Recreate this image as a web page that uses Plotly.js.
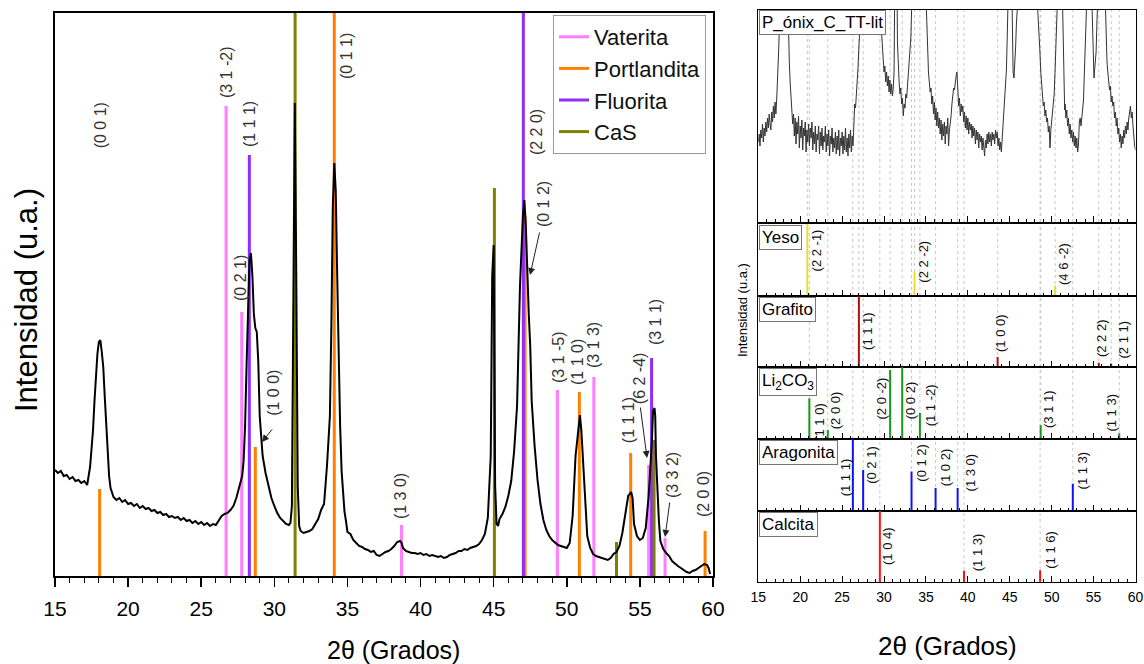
<!DOCTYPE html>
<html><head><meta charset="utf-8">
<script src="https://cdn.plot.ly/plotly-3.0.1.min.js"></script>
<style>html,body{margin:0;padding:0;background:#fff}#chart{width:1144px;height:664px}</style>
</head><body><div id="chart"></div>
<script>
// ---------- Left panel: measured pattern ----------
const twoTheta = [15.0,15.2,15.4,15.6,15.8,16.0,16.2,16.4,16.6,16.8,17.0,17.2,17.4,17.5,17.6,17.7,17.8,17.9,18.0,18.1,18.2,18.3,18.4,18.5,18.6,18.7,18.8,19.0,19.2,19.4,19.6,19.8,20.0,20.2,20.4,20.6,20.8,21.0,21.2,21.4,21.6,21.8,22.0,22.2,22.4,22.6,22.8,23.0,23.2,23.4,23.6,23.8,24.0,24.2,24.4,24.6,24.8,25.0,25.2,25.4,25.6,25.8,26.0,26.2,26.4,26.6,26.8,27.0,27.2,27.4,27.6,27.8,27.9,28.0,28.1,28.2,28.3,28.4,28.5,28.6,28.7,28.8,28.9,29.0,29.1,29.2,29.4,29.6,29.8,30.0,30.2,30.4,30.6,30.8,31.0,31.1,31.2,31.3,31.4,31.5,31.6,31.7,31.8,32.0,32.2,32.4,32.6,32.8,33.0,33.2,33.4,33.6,33.8,33.9,34.0,34.1,34.2,34.3,34.4,34.5,34.6,34.7,34.8,34.9,35.0,35.2,35.4,35.6,35.8,36.0,36.2,36.4,36.6,36.8,37.0,37.2,37.4,37.6,37.8,38.0,38.2,38.4,38.6,38.7,38.8,39.0,39.2,39.4,39.6,39.8,40.0,40.2,40.4,40.6,40.8,41.0,41.2,41.4,41.6,41.8,42.0,42.2,42.4,42.6,42.8,43.0,43.2,43.4,43.6,43.8,44.0,44.2,44.4,44.6,44.8,44.9,45.0,45.05,45.1,45.2,45.3,45.4,45.6,45.8,46.0,46.2,46.4,46.6,46.8,47.0,47.1,47.2,47.3,47.4,47.5,47.6,47.8,48.0,48.2,48.4,48.6,48.8,49.0,49.2,49.4,49.6,49.8,50.0,50.2,50.4,50.6,50.8,50.9,51.0,51.1,51.2,51.3,51.4,51.6,51.8,52.0,52.2,52.4,52.6,52.8,53.0,53.2,53.4,53.6,53.8,54.0,54.2,54.4,54.5,54.6,54.8,55.0,55.2,55.4,55.6,55.8,55.9,56.0,56.05,56.1,56.2,56.3,56.4,56.6,56.8,57.0,57.2,57.4,57.6,57.8,58.0,58.2,58.4,58.6,58.8,59.0,59.2,59.4,59.6,59.7,59.8,60.0];
const intensity = [106,103,105,100,101,97,99,95,96,93,95,91,109,125,146,175,200,222,234,236,224,209,180,150,122,100,88,79,76,78,74,76,72,73,70,72,68,70,67,68,65,66,63,64,61,62,59,60,58,59,56,58,55,56,53,55,52,54,51,53,50,52,51,55,60,62,63,66,70,78,88,100,115,150,210,280,316,323,300,262,248,244,215,160,135,120,103,90,78,70,63,58,55,52,51,53,70,250,473,300,90,50,45,43,44,45,47,52,57,66,72,110,160,250,370,413,385,300,220,150,105,80,64,55,44,42,36,33,30,29,27,26,24,25,21,20,22,24,25,27,30,34,35,33,28,25,24,23,23,22,23,21,22,20,21,20,19,20,18,19,21,22,23,25,25,27,26,28,29,30,32,36,42,58,120,300,331,240,90,52,50,57,62,69,80,95,125,170,290,360,376,350,300,262,230,175,130,96,72,56,46,40,36,33,31,30,29,28,33,60,120,150,161,145,115,90,65,40,28,22,20,19,18,17,16,18,22,24,30,43,60,80,84,78,52,40,36,38,48,80,130,165,168,160,120,80,55,35,27,23,20,15,12,10,8,6,4,3,5,6,8,10,12,11,8,2];

// Reference phases (left panel)
const phaseNames = ["Vaterita","Portlandita","Fluorita","CaS"];
const vateritaPos = [26.7,27.77,38.7,49.36,51.85,55.6,56.72];
const vateritaInt = [470,264,51,186,199,111,38];
const portlanditaPos = [18.05,28.7,34.1,47.15,50.86,54.37,59.46];
const portlanditaInt = [87,129,563,360,184,123,45];
const fluoritaPos = [28.29,47.03,55.8];
const fluoritaInt = [421,563,218];
const casPos = [31.42,45.05,53.4,55.97];
const casInt = [563,388,34,136];

// Left panel hkl labels
const leftLabelText = ["(0 0 1)","(3 1 -2)","(1 1 1)","(0 2 1)","(0 1 1)","(1 0 0)","(1 3 0)","(2 2 0)","(0 1 2)","(3 1 -5)","(1 1 0)","(3 1 3)","(1 1 1)","(6 2 -4)","(3 1 1)","(3 3 2)","(2 0 0)"];
const leftLabelX = [18.1,26.7,28.27,27.65,34.9,29.9,38.6,47.9,48.38,49.4,50.7,51.8,54.2,54.95,56.04,57.2,59.32];
const leftLabelY = [451,504,452,298,520,183,80,444,372,219,214,231,156,198,254,101,82];
// arrow heads (data units)
const arrowX = [29.16,47.49,55.49,56.72];
const arrowY = [134,301,118,39];

// ---------- Right panels ----------
const topTwoTheta = [
15.0,15.1,15.2,15.3,15.4,15.5,15.6,15.7,15.8,15.9,16.0,16.1,16.2,16.3,16.4,16.5,16.6,16.7,16.8,16.9,17.0,17.1,17.2,17.3,17.4,17.5,17.6,17.7,
17.8,18.0,18.2,18.4,18.5,18.6,18.7,18.8,18.9,19.0,
19.1,19.2,19.3,19.4,19.5,19.6,19.7,19.8,19.9,20.0,20.1,20.2,20.3,20.4,20.5,20.6,20.7,20.8,20.9,21.0,21.1,21.2,21.3,21.4,21.5,21.6,21.7,21.8,21.9,22.0,
22.1,22.2,22.3,22.4,22.5,22.6,22.7,22.8,22.9,23.0,23.1,23.2,23.3,23.4,23.5,23.6,23.7,23.8,23.9,24.0,24.1,24.2,24.3,24.4,24.5,24.6,24.7,24.8,24.9,25.0,
25.1,25.2,25.3,25.4,25.5,25.6,25.7,25.8,25.9,26.0,26.1,26.2,26.3,26.4,
26.5,26.6,26.7,26.8,26.9,27.0,27.1,27.2,27.3,27.6,28.0,28.4,28.8,29.2,29.5,29.7,29.9,
30.0,30.1,30.2,30.3,30.4,30.5,30.6,30.7,30.8,30.9,31.0,31.1,31.2,
31.3,31.4,31.5,31.6,
31.7,31.8,31.9,32.0,32.1,32.2,32.3,32.4,32.5,32.6,32.7,32.8,32.9,33.0,33.1,33.2,
33.3,33.5,33.8,34.2,34.6,34.9,
35.0,35.1,35.2,35.3,35.4,35.5,35.6,35.7,35.8,35.9,36.0,36.1,36.2,36.3,36.4,36.5,36.6,36.7,36.8,36.9,37.0,37.1,37.2,37.3,37.4,37.5,37.6,37.7,37.8,37.9,
38.0,38.1,38.2,38.3,38.4,38.5,38.6,38.7,38.8,38.9,39.0,39.1,39.2,39.3,39.4,39.5,39.6,39.7,39.8,39.9,40.0,40.1,40.2,40.3,40.4,40.5,40.6,40.7,40.8,40.9,
41.0,41.1,41.2,41.3,41.4,41.5,41.6,41.7,41.8,41.9,42.0,42.1,42.2,42.3,42.4,42.5,42.6,42.7,42.8,42.9,43.0,43.1,43.2,43.3,43.4,43.5,43.6,43.7,43.8,43.9,
44.0,44.1,44.2,44.3,44.4,44.5,44.6,44.7,
44.8,45.0,45.2,45.3,45.4,45.5,45.6,45.7,45.8,46.0,46.4,47.0,47.4,47.8,48.2,48.4,
48.5,48.6,48.7,48.8,48.9,49.0,49.1,49.2,49.3,49.4,49.5,49.6,49.7,49.8,49.9,50.0,50.1,50.2,50.3,50.4,50.5,50.6,
50.8,51.0,51.2,51.35,51.45,51.55,
51.6,51.7,51.8,51.9,52.0,52.1,52.2,52.3,52.4,52.5,52.6,52.7,52.8,52.9,53.0,53.1,53.2,53.3,53.4,53.5,53.6,53.7,53.8,53.9,54.0,
54.1,54.3,54.5,54.7,54.9,55.0,55.05,55.1,55.2,55.3,55.4,55.6,55.9,56.2,56.4,
56.5,56.6,56.7,56.8,56.9,57.0,57.1,57.2,57.3,57.4,57.5,57.6,57.7,57.8,57.9,58.0,58.1,58.2,58.3,58.4,58.5,58.6,58.7,58.8,58.9,59.0,59.1,59.2,59.3,59.4,59.5,59.6,59.7,59.8,59.9,60.0];
const topIntensity = [
80,88,76,92,84,98,80,94,86,100,90,104,94,108,98,92,110,100,116,104,120,108,124,140,165,190,220,250,
280,300,300,270,220,184,160,140,120,112,
98,108,86,104,78,100,88,106,74,96,84,102,72,94,86,100,70,92,80,98,76,94,84,100,72,90,78,96,70,88,
82,96,68,90,76,94,72,86,80,96,70,88,76,92,66,86,78,94,70,84,74,90,68,86,72,92,66,84,76,90,
68,86,72,94,70,84,66,88,74,92,70,86,76,100,
118,114,126,140,155,175,200,230,260,300,330,380,330,280,230,190,160,
150,156,140,150,136,146,130,142,128,138,126,134,150,
260,400,300,180,
150,140,128,134,118,124,106,118,114,128,124,136,142,150,165,185,
215,270,320,400,330,250,
220,190,170,150,140,130,134,118,126,108,120,102,114,96,110,94,104,88,102,82,98,86,100,78,96,88,104,76,92,98,
106,118,124,134,132,142,146,150,138,116,124,106,118,110,116,100,110,94,106,92,104,88,100,92,98,84,96,86,94,78,
92,82,90,74,88,80,86,72,84,76,66,82,74,88,78,90,80,88,76,90,82,88,78,92,84,90,76,84,72,80,
70,84,98,108,118,135,152,185,
230,300,260,190,150,144,156,175,200,250,300,350,360,300,240,205,
185,170,150,135,124,116,120,106,112,100,104,90,96,74,92,100,110,118,128,150,180,215,
280,300,260,200,150,112,
118,104,112,96,104,88,98,84,92,80,90,76,86,74,84,70,78,100,104,96,106,112,122,150,175,
210,280,300,250,180,150,144,150,160,170,200,260,320,280,210,
170,160,150,140,132,136,120,126,116,120,104,110,96,104,88,94,80,88,74,86,78,92,84,96,88,100,92,104,110,116,104,110,96,82,76,72];

const panelNames = ["P_ónix_C_TT-lit","Yeso","Grafito","Li<sub>2</sub>CO<sub>3</sub>","Aragonita","Calcita"];
const yesoPos = [20.85,33.64,50.41];
const yesoInt = [1,0.34,0.145];
const yesoLab = ["(2 2 -1)","(2 2 -2)","(4 6 -2)"];
const yesoLabX = [21.98,34.68,51.4];
const yesoLabY = [0.63,0.48,0.45];
const grafitoPos = [27.0,43.55,55.62,57.1];
const grafitoInt = [1,0.14,0.06,0.05];
const grafitoLab = ["(1 1 1)","(1 0 0)","(2 2 2)","(2 1 1)"];
const grafitoLabX = [28.1,43.96,56.03,58.57];
const grafitoLabY = [0.51,0.48,0.41,0.38];
const li2co3Pos = [21.09,23.29,30.73,32.17,34.28,48.69,58.06];
const li2co3Int = [0.565,0.125,0.96,1,0.36,0.19,0.08];
const li2co3Lab = ["(1 1 0)","(2 0 0)","(2 0 -2)","(0 0 2)","(1 1 -2)","(3 1 1)","(1 1 3)"];
const li2co3LabX = [22.37,24.16,29.74,33.12,35.5,49.6,57.14];
const li2co3LabY = [0.24,0.40,0.56,0.54,0.47,0.42,0.36];
const aragonitaPos = [26.28,27.51,33.28,36.15,38.78,52.52];
const aragonitaInt = [1,0.57,0.55,0.32,0.32,0.38];
const aragonitaLab = ["(1 1 1)","(0 2 1)","(0 1 2)","(1 0 2)","(1 3 0)","(1 1 3)"];
const aragonitaLabX = [25.36,28.55,34.52,37.3,40.29,53.79];
const aragonitaLabY = [0.47,0.64,0.67,0.61,0.54,0.57];
const calcitaPos = [29.5,39.54,48.62];
const calcitaInt = [1,0.157,0.167];
const calcitaLab = ["(1 0 4)","(1 1 3)","(1 1 6)"];
const calcitaLabX = [30.5,41.1,49.85];
const calcitaLabY = [0.51,0.42,0.46];

const xTicks = [15,20,25,30,35,40,45,50,55,60];

// ---------- build ----------
const FONT = "Liberation Sans, Arial, sans-serif";
function sticks(pos, h){
  const x=[],y=[];
  pos.forEach((p,i)=>{x.push(p,p,null);y.push(0,h[i],null);});
  return {x,y};
}
const traces = [];
const leftPhases = [
  {pos:vateritaPos,h:vateritaInt,color:"#ff7dff"},
  {pos:portlanditaPos,h:portlanditaInt,color:"#ff8000"},
  {pos:fluoritaPos,h:fluoritaInt,color:"#8f2cff"},
  {pos:casPos,h:casInt,color:"#808000"}
];
leftPhases.forEach((ph,i)=>{
  const s=sticks(ph.pos,ph.h);
  traces.push({type:"scatter",mode:"lines",x:s.x,y:s.y,name:phaseNames[i],
    line:{color:ph.color,width:3},xaxis:"x",yaxis:"y",hoverinfo:"skip"});
});
traces.push({type:"scatter",mode:"lines",x:twoTheta,y:intensity,showlegend:false,
  line:{color:"#000",width:2},xaxis:"x",yaxis:"y"});

const rightPhases = [
  {pos:yesoPos,h:yesoInt,color:"#e8e030",lab:yesoLab,lx:yesoLabX,ly:yesoLabY},
  {pos:grafitoPos,h:grafitoInt,color:"#b01010",lab:grafitoLab,lx:grafitoLabX,ly:grafitoLabY},
  {pos:li2co3Pos,h:li2co3Int,color:"#149a14",lab:li2co3Lab,lx:li2co3LabX,ly:li2co3LabY},
  {pos:aragonitaPos,h:aragonitaInt,color:"#1010ff",lab:aragonitaLab,lx:aragonitaLabX,ly:aragonitaLabY},
  {pos:calcitaPos,h:calcitaInt,color:"#ff1010",lab:calcitaLab,lx:calcitaLabX,ly:calcitaLabY}
];
const panelTop = [212,1,1,1,1,1];
for(let k=0;k<6;k++){
  const ax = k+2;
  const gx=[],gy=[];
  const from = Math.max(k-1,0);
  for(let j=from;j<rightPhases.length;j++){
    rightPhases[j].pos.forEach(p=>{gx.push(p,p,null);gy.push(0,panelTop[k],null);});
  }
  traces.push({type:"scatter",mode:"lines",x:gx,y:gy,showlegend:false,hoverinfo:"skip",
    line:{color:"#c8c8c8",width:1,dash:"3px,3px"},xaxis:"x"+ax,yaxis:"y"+ax});
  if(k===0){
    traces.push({type:"scatter",mode:"lines",x:topTwoTheta,y:topIntensity,showlegend:false,
      line:{color:"#333",width:1},xaxis:"x2",yaxis:"y2"});
  } else {
    const ph=rightPhases[k-1];
    const s=sticks(ph.pos,ph.h);
    traces.push({type:"scatter",mode:"lines",x:s.x,y:s.y,showlegend:false,hoverinfo:"skip",
      line:{color:ph.color,width:2},xaxis:"x"+ax,yaxis:"y"+ax});
  }
}

const W=1144,H=664;
const px2x = v=>v/W, py2y = v=>(H-v)/H;
const rightTopBottom = [[10,222],[224,296],[296,367],[367,439],[439,511],[511,582]];
const layout = {
  width:W,height:H,margin:{l:0,r:0,t:0,b:0},
  paper_bgcolor:"#fff",plot_bgcolor:"#fff",
  font:{family:FONT,color:"#000"},
  showlegend:true,
  legend:{x:px2x(553),y:py2y(15),xanchor:"left",yanchor:"top",bgcolor:"#fff",
    bordercolor:"#999",borderwidth:1,font:{size:22,family:FONT,color:"#111"},
    tracegroupgap:0,itemwidth:30},
  xaxis:{domain:[px2x(55),px2x(713)],range:[15,60],anchor:"y",showline:true,linewidth:2,
    linecolor:"#000",mirror:true,ticks:"outside",ticklen:9,tickwidth:1.5,tickcolor:"#000",
    tickvals:xTicks,ticktext:xTicks.map(String),
    minor:{ticks:"outside",ticklen:5,dtick:1,tick0:15,tickwidth:1,tickcolor:"#000",showgrid:false},
    showgrid:false,zeroline:false,tickfont:{size:21,family:FONT},ticklabelstandoff:4},
  yaxis:{domain:[py2y(576),py2y(13)],range:[0,563],anchor:"x",showline:true,linewidth:2,
    linecolor:"#000",mirror:true,ticks:"",showticklabels:false,showgrid:false,zeroline:false},
  annotations:[],
};
for(let k=0;k<6;k++){
  const ax=k+2;
  const [t,b]=rightTopBottom[k];
  layout["xaxis"+ax]={domain:[px2x(758.3),px2x(1135.5)],range:[15,60],anchor:"y"+ax,
    showline:true,linewidth:1,linecolor:"#000",mirror:true,ticks:"inside",ticklen:6,
    tickwidth:1,tickcolor:"#000",tickvals:xTicks,ticktext:xTicks.map(String),
    minor:{ticks:"inside",ticklen:3,dtick:1,tick0:15,tickwidth:1,tickcolor:"#000",showgrid:false},
    showgrid:false,zeroline:false,showticklabels:(k===5),tickfont:{size:14,family:FONT},
    ticklabelstandoff:2};
  layout["yaxis"+ax]={domain:[py2y(b),py2y(t)],range:[0,panelTop[k]],anchor:"x"+ax,
    showline:true,linewidth:1,linecolor:"#000",mirror:true,ticks:"",showticklabels:false,
    showgrid:false,zeroline:false};
  layout.annotations.push({xref:"paper",yref:"paper",x:px2x(758.5),y:py2y(t+0.5),xanchor:"left",
    yanchor:"top",text:panelNames[k],showarrow:false,bgcolor:"#fff",bordercolor:"#777",
    borderwidth:1,borderpad:2,font:{size:17,family:FONT,color:"#000"}});
  if(k>0){
    const ph=rightPhases[k-1];
    ph.lab.forEach((t2,i)=>{
      layout.annotations.push({xref:"x"+ax,yref:"y"+ax,x:ph.lx[i],y:ph.ly[i],text:t2,
        textangle:-90,showarrow:false,font:{size:13,family:FONT,color:"#111"}});
    });
  }
}
leftLabelText.forEach((t,i)=>{
  layout.annotations.push({xref:"x",yref:"y",x:leftLabelX[i],y:leftLabelY[i],text:t,
    textangle:-90,showarrow:false,font:{size:16,family:FONT,color:"#333"}});
});
const arrowTail = [[12,-15],[10,-45],[-7,-53],[5,-37]];
arrowX.forEach((x,i)=>{
  layout.annotations.push({xref:"x",yref:"y",x:x,y:arrowY[i],text:" ",showarrow:true,
    ax:arrowTail[i][0],ay:arrowTail[i][1],arrowhead:2,arrowsize:1.4,arrowwidth:1,
    arrowcolor:"#222",standoff:0,font:{size:2}});
});
layout.annotations.push({xref:"paper",yref:"paper",x:px2x(393),y:py2y(650),text:"2θ (Grados)",
  showarrow:false,xanchor:"center",yanchor:"middle",font:{size:25,family:FONT,color:"#000"}});
layout.annotations.push({xref:"paper",yref:"paper",x:px2x(947),y:py2y(646),text:"2θ (Grados)",
  showarrow:false,xanchor:"center",yanchor:"middle",font:{size:26,family:FONT,color:"#000"}});
layout.annotations.push({xref:"paper",yref:"paper",x:px2x(27),y:py2y(300),text:"Intensidad (u.a.)",
  textangle:-90,showarrow:false,xanchor:"center",yanchor:"middle",font:{size:31,family:FONT,color:"#000"}});
layout.annotations.push({xref:"paper",yref:"paper",x:px2x(742),y:py2y(310),text:"Intensidad (u.a.)",
  textangle:-90,showarrow:false,xanchor:"center",yanchor:"middle",font:{size:13,family:FONT,color:"#000"}});

Plotly.newPlot("chart",traces,layout,{displayModeBar:false,staticPlot:true});
</script></body></html>
